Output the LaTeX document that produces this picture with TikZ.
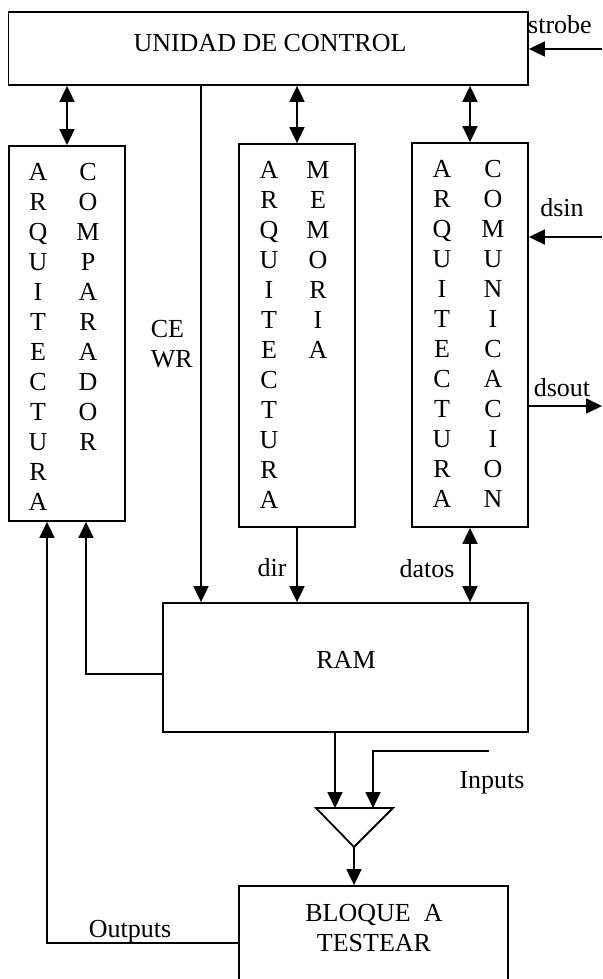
\documentclass[tikz,border=0pt]{standalone}
\usepackage{fontspec}
\setmainfont{Liberation Serif}
\usepackage{tikz}
\usetikzlibrary{arrows.meta}

\begin{document}
\begin{tikzpicture}[x=1pt, y=-1pt, line width=1.8pt,
  font=\fontsize{26}{30}\selectfont,
  blk/.style={draw, inner sep=0pt},
  arr/.style={-{Triangle[length=16pt,width=15pt]}},
  dbl/.style={{Triangle[length=16pt,width=15pt]}-{Triangle[length=16pt,width=15pt]}},
  lbl/.style={anchor=base, inner sep=0pt}]
\useasboundingbox (0,0) rectangle (602,979);
\clip (0,0) rectangle (602,979);
%%%%% Blocks %%%%%
\node[blk, minimum width=519.5pt, minimum height=73pt] (uc) at (268.25,48.5) {};
\node[blk, minimum width=116pt, minimum height=375pt] (comp) at (67,333.5) {};
\node[blk, minimum width=116pt, minimum height=383pt] (mem) at (297,335.5) {};
\node[blk, minimum width=116pt, minimum height=384pt] (comm) at (470,335) {};
\node[blk, minimum width=365pt, minimum height=129pt] (ram) at (345.5,667.5) {};
\node[blk, minimum width=269pt, minimum height=120pt] (bloque) at (373.5,946) {};
%%%%% Texts %%%%%
\node[lbl] (uctxt) at (270,51.6) {UNIDAD DE CONTROL};
\node[lbl] (ramtxt) at (346,668) {RAM};
\node[lbl] (bloquetxt) at (374,921) {BLOQUE\ \ A};
\node[lbl] (testtxt) at (374,951) {TESTEAR};
\foreach \c [count=\i] in {A,R,Q,U,I,T,E,C,T,U,R,A}{
\node[lbl] (compa\i) at (38,{180.6+30*(\i-1)}) {\c};
\node[lbl] (mema\i) at (269,{178.6+30*(\i-1)}) {\c};
\node[lbl] (comma\i) at (442,{177.6+30*(\i-1)}) {\c};
}
\foreach \c [count=\i] in {C,O,M,P,A,R,A,D,O,R}
\node[lbl] (compb\i) at (88,{180.6+30*(\i-1)}) {\c};
\foreach \c [count=\i] in {M,E,M,O,R,I,A}
\node[lbl] (memb\i) at (318,{178.6+30*(\i-1)}) {\c};
\foreach \c [count=\i] in {C,O,M,U,N,I,C,A,C,I,O,N}
\node[lbl] (commb\i) at (493,{177.6+30*(\i-1)}) {\c};
%%%%% Signals %%%%%
\coordinate (strobein) at (602,49);
\coordinate (dsin) at (602,237);
\coordinate (dsout) at (602,406);
\coordinate (cewr) at (201,0);
\coordinate (fb) at (86,674);
\coordinate (outp) at (47,943);
\coordinate (inp) at (489,751);
\coordinate (muxa) at (335,808);
\coordinate (muxb) at (373,808);
\coordinate (muxl) at (316,808);
\coordinate (muxr) at (393,808);
\coordinate (muxo) at (354,847);
\draw[arr] (strobein) -- (strobein -| uc.east);
\draw[arr] (dsin) -- (dsin -| comm.east);
\draw[arr] (dsout -| comm.east) -- (dsout);
\draw[dbl] (uc.south -| comp.north) -- (comp.north);
\draw[dbl] (uc.south -| mem.north) -- (mem.north);
\draw[dbl] (uc.south -| comm.north) -- (comm.north);
\draw[arr] (uc.south -| cewr) -- (ram.north -| cewr);
\draw[arr] (mem.south) -- (mem.south |- ram.north);
\draw[dbl] (comm.south) -- (comm.south |- ram.north);
\draw[arr] (ram.west |- fb) -| (fb |- comp.south);
\draw[arr] (bloque.west |- outp) -| (outp |- comp.south);
\draw[arr] (ram.south -| muxa) -- (muxa);
\draw[arr] (inp) -| (muxb);
\draw (muxl) -- (muxr) -- (muxo) -- cycle;
\draw[arr] (muxo) -- (muxo |- bloque.north);
% labels
\node[lbl] (strobetxt) at (560,34) {strobe};
\node[lbl] (dsintxt) at (562,216) {dsin};
\node[lbl] (dsouttxt) at (562,396) {dsout};
\node[lbl, anchor=base west] (cetxt) at (150,337) {CE};
\node[lbl, anchor=base west] (wrtxt) at (150,367) {WR};
\node[lbl] (dirtxt) at (272,576) {dir};
\node[lbl] (datostxt) at (427,577) {datos};
\node[lbl] (inptxt) at (492,788) {Inputs};
\node[lbl] (outtxt) at (130,937) {Outputs};
\end{tikzpicture}
\end{document}
